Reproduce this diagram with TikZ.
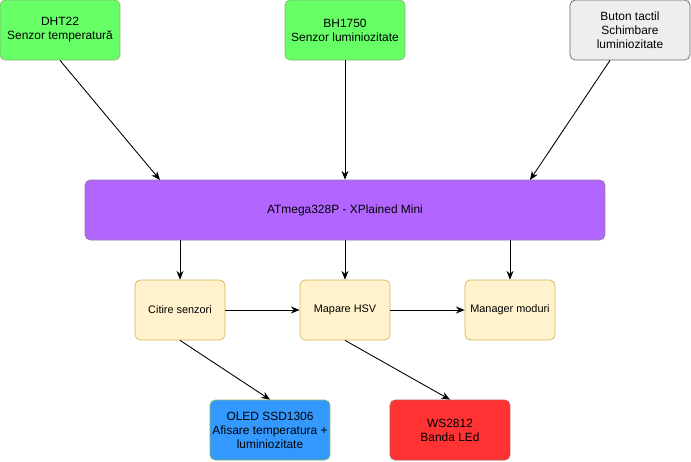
\documentclass[tikz,border=0pt]{standalone}
\usepackage{fontspec}
\setmainfont{Liberation Sans}
\usetikzlibrary{arrows.meta}
\definecolor{gfill}{HTML}{66FF66}\definecolor{gdraw}{HTML}{82B366}
\definecolor{yfill}{HTML}{FFF2CC}\definecolor{ydraw}{HTML}{D6B656}
\definecolor{pfill}{HTML}{B266FF}\definecolor{pdraw}{HTML}{9673A6}
\definecolor{bfill}{HTML}{3399FF}\definecolor{rfill}{HTML}{FF3333}\definecolor{rdraw}{HTML}{B85450}
\definecolor{kfill}{HTML}{EEEEEE}\definecolor{kdraw}{HTML}{666666}
\begin{document}
\begin{tikzpicture}[x=0.02cm,y=-0.02cm,
 box/.style={draw,rounded corners=3pt,align=center,font=\fontsize{6.8}{8}\selectfont,inner sep=0pt,line width=0.4pt},
 big/.style={box,minimum width=2.4cm,minimum height=1.2cm},
 small/.style={box,minimum width=1.8cm,minimum height=1.2cm,fill=yfill,draw=ydraw,font=\fontsize{6.2}{7.5}\selectfont},
 arr/.style={-{Stealth[length=5pt,width=4pt]},line width=0.5pt}]
\useasboundingbox (0,0) rectangle (691,461);
\node[big,fill=gfill,draw=gdraw] (dht) at (60,30) {DHT22\\Senzor temperatură};
\node[big,fill=gfill,draw=gdraw] (bh) at (345,30) {BH1750\\Senzor luminiozitate};
\node[big,fill=kfill,draw=kdraw] (btn) at (630,30) {Buton tactil\\Schimbare\\luminiozitate};
\node[box,fill=pfill,draw=pdraw,minimum width=10.4cm,minimum height=1.2cm] (mcu) at (345,210) {ATmega328P - XPlained Mini};
\node[small] (cit) at (180,310) {Citire senzori};
\node[small] (map) at (345,310) {Mapare HSV};
\node[small] (man) at (510,310) {Manager moduri};
\node[big,fill=bfill,draw=gdraw] (oled) at (270,430) {OLED SSD1306\\Afisare temperatura +\\luminiozitate};
\node[big,fill=rfill,draw=rdraw] (ws) at (450,430) {WS2812\\Banda LEd};
\coordinate (a1) at (160,180);\coordinate (a2) at (530,180);
\draw[arr] (dht.south) -- (a1);
\draw[arr] (bh) -- (mcu);
\draw[arr] (btn.south west -| 610,60) -- (a2);
\draw[arr] (mcu.south -| cit) -- (cit);
\draw[arr] (mcu.south -| map) -- (map);
\draw[arr] (mcu.south -| man) -- (man);
\draw[arr] (cit) -- (map);
\draw[arr] (map) -- (man);
\draw[arr] (cit.south) -- (oled.north);
\draw[arr] (map.south) -- (ws.north);
\end{tikzpicture}
\end{document}
